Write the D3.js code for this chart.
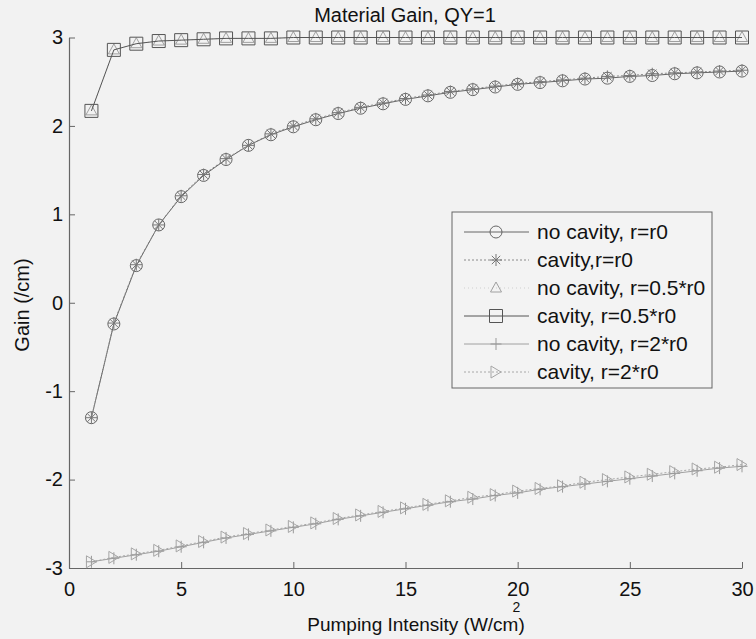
<!DOCTYPE html>
<html><head><meta charset="utf-8">
<script src="https://cdn.jsdelivr.net/npm/d3@7"></script>
<style>
body{margin:0;background:#f2f2f2}
svg{display:block;font-family:"Liberation Sans",Arial,sans-serif}
</style></head>
<body><svg id="c" width="756" height="639"></svg>
<script>
const pumping = [1,2,3,4,5,6,7,8,9,10,11,12,13,14,15,16,17,18,19,20,21,22,23,24,25,26,27,28,29,30];
const noCavR0 = [-1.30,-0.24,0.42,0.88,1.20,1.44,1.62,1.78,1.90,1.99,2.07,2.14,2.20,2.25,2.30,2.34,2.38,2.41,2.44,2.47,2.49,2.51,2.53,2.54,2.56,2.57,2.59,2.60,2.61,2.62];
const cavR0 = [-1.30,-0.23,0.43,0.88,1.21,1.45,1.63,1.78,1.91,2.00,2.08,2.15,2.21,2.26,2.31,2.35,2.39,2.42,2.45,2.48,2.50,2.52,2.54,2.56,2.57,2.59,2.60,2.61,2.62,2.63];
const noCavHalf = [2.17,2.86,2.93,2.96,2.97,2.98,2.99,2.99,2.99,3.00,3.00,3.00,3.00,3.00,3.00,3.00,3.00,3.00,3.00,3.00,3.00,3.00,3.00,3.00,3.00,3.00,3.00,3.00,3.00,3.00];
const cavHalf = [2.17,2.86,2.93,2.96,2.97,2.98,2.99,2.99,2.99,3.00,3.00,3.00,3.00,3.00,3.00,3.00,3.00,3.00,3.00,3.00,3.00,3.00,3.00,3.00,3.00,3.00,3.00,3.00,3.00,3.00];
const noCav2 = [-2.93,-2.89,-2.85,-2.81,-2.76,-2.71,-2.66,-2.62,-2.58,-2.54,-2.50,-2.45,-2.41,-2.37,-2.33,-2.29,-2.25,-2.22,-2.18,-2.15,-2.11,-2.08,-2.05,-2.02,-1.99,-1.96,-1.93,-1.90,-1.87,-1.85];
const cav2 = [-2.93,-2.88,-2.84,-2.80,-2.75,-2.70,-2.65,-2.61,-2.57,-2.53,-2.49,-2.44,-2.40,-2.36,-2.32,-2.28,-2.24,-2.20,-2.17,-2.13,-2.10,-2.07,-2.03,-2.00,-1.97,-1.94,-1.91,-1.88,-1.86,-1.83];
const seriesNames = ["no cavity, r=r0","cavity,r=r0","no cavity, r=0.5*r0","cavity, r=0.5*r0","no cavity, r=2*r0","cavity, r=2*r0"];
const xTicks = [0,5,10,15,20,25,30];
const yTicks = [-3,-2,-1,0,1,2,3];
const titleText = "Material Gain, QY=1";
const xLabel = "Pumping Intensity (W/cm)";
const yLabel = "Gain (/cm)";

const svg = d3.select("#c");
const x = d3.scaleLinear().domain([0,30]).range([69,742]);
const y = d3.scaleLinear().domain([-3,3]).range([568,37.5]);

const markers = {
  circle: "M6,0A6,6 0 1,1 -6,0A6,6 0 1,1 6,0Z",
  star: "M-6,0L6,0M0,-6L0,6M-4.2,-4.2L4.2,4.2M-4.2,4.2L4.2,-4.2",
  tri: "M0,-6L5.5,4L-5.5,4Z",
  square: "M-6.5,-6.5L6.5,-6.5L6.5,6.5L-6.5,6.5Z",
  plus: "M-5.5,0L5.5,0M0,-6L0,6",
  right: "M-5,-6L5,0L-5,6Z"
};

const series = [
  {name:seriesNames[0], vals:noCavR0, stroke:"#666", dash:null, m:"circle", mc:"#666", z:4},
  {name:seriesNames[1], vals:cavR0, stroke:"#8a8a8a", dash:"2,2", m:"star", mc:"#777", z:5},
  {name:seriesNames[2], vals:noCavHalf, stroke:"#cfcfcf", dash:"1,3", m:"tri", mc:"#a0a0a0", z:2},
  {name:seriesNames[3], vals:cavHalf, stroke:"#555", dash:null, m:"square", mc:"#555", z:3},
  {name:seriesNames[4], vals:noCav2, stroke:"#a0a0a0", dash:null, m:"plus", mc:"#999", z:0},
  {name:seriesNames[5], vals:cav2, stroke:"#a8a8a8", dash:"2,2", m:"right", mc:"#a5a5a5", z:1}
];

const line = d3.line().x((d,i)=>x(pumping[i])).y(d=>y(d));
const fmt = d => String(d);

const gx = svg.append("g").attr("transform","translate(0,568)")
  .call(d3.axisBottom(x).tickValues(xTicks).tickSize(-6).tickSizeOuter(0).tickPadding(14).tickFormat(fmt));
const gy = svg.append("g").attr("transform","translate(69,0)")
  .call(d3.axisLeft(y).tickValues(yTicks).tickSize(-6).tickSizeOuter(0).tickPadding(6).tickFormat(fmt));
[gx,gy].forEach(g=>{
  g.select(".domain").attr("stroke","#666").attr("stroke-width",1.2);
  g.selectAll(".tick line").attr("stroke","#666");
  g.selectAll(".tick text").attr("fill","#111").style("font-size","20px").style("font-family","'Liberation Sans',Arial,sans-serif");
});

series.slice().sort((a,b)=>a.z-b.z).forEach(s=>{
  svg.append("path").datum(s.vals).attr("d",line).attr("fill","none")
    .attr("stroke",s.stroke).attr("stroke-width",1).attr("stroke-dasharray",s.dash);
  svg.append("g").selectAll("path").data(s.vals).join("path")
    .attr("transform",(d,i)=>`translate(${x(pumping[i])},${y(d)})`)
    .attr("d",markers[s.m]).attr("fill","none").attr("stroke",s.mc).attr("stroke-width",1);
});

svg.append("text").attr("x",405).attr("y",22).attr("text-anchor","middle")
  .style("font-size","20px").attr("fill","#111").text(titleText);
const xl = svg.append("text").attr("x",416).attr("y",631).attr("text-anchor","middle")
  .style("font-size","19px").attr("fill","#111").text(xLabel);
const mEnd = xl.node().getStartPositionOfChar(xLabel.length-1).x;
svg.append("text").attr("x",mEnd-2).attr("y",612).attr("text-anchor","middle")
  .style("font-size","14px").attr("fill","#111").text("2");
svg.append("text").attr("transform","translate(29,305) rotate(-90)").attr("text-anchor","middle")
  .style("font-size","20px").attr("fill","#111").text(yLabel);

const lg = svg.append("g");
lg.append("rect").attr("x",452).attr("y",212).attr("width",260).attr("height",176)
  .attr("fill","#f3f3f3").attr("stroke","#666").attr("stroke-width",1);
series.forEach((s,k)=>{
  const cy = 232 + k*28;
  lg.append("line").attr("x1",464).attr("x2",529).attr("y1",cy).attr("y2",cy)
    .attr("stroke",s.stroke).attr("stroke-width",1).attr("stroke-dasharray",s.dash);
  lg.append("path").attr("transform",`translate(496,${cy})`).attr("d",markers[s.m])
    .attr("fill","none").attr("stroke",s.mc);
  lg.append("text").attr("x",537).attr("y",cy+7).style("font-size","21px").attr("fill","#111").text(s.name);
});
</script></body></html>
